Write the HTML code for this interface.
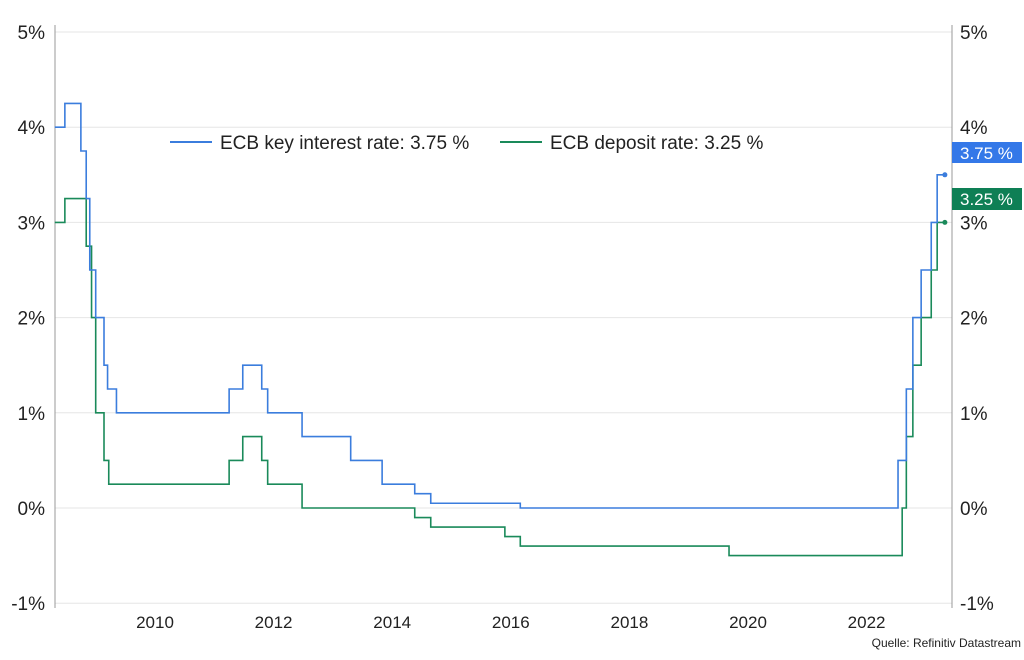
<!DOCTYPE html>
<html><head><meta charset="utf-8"><style>
body{margin:0;background:#fff;font-family:"Liberation Sans",sans-serif}
svg text{font-family:"Liberation Sans",sans-serif}
</style></head><body>
<svg id="c" width="1024" height="655">
<g id="grid"></g><g id="axes"></g><g id="series"></g>
<g>
<line x1="170" y1="142" x2="212" y2="142" stroke="#3b7ddd" stroke-width="2"/>
<text x="220" y="149" font-size="19" fill="#222">ECB key interest rate: 3.75 %</text>
<line x1="500" y1="142" x2="542" y2="142" stroke="#1a8a5a" stroke-width="2"/>
<text x="550" y="149" font-size="19" fill="#222">ECB deposit rate: 3.25 %</text>
</g>
<rect x="952" y="142" width="70" height="21" fill="#3478e8"/>
<text x="960" y="159" font-size="17" fill="#fff">3.75 %</text>
<rect x="952" y="188" width="70" height="22" fill="#0e7f55"/>
<text x="960" y="205" font-size="17" fill="#fff">3.25 %</text>
<text x="1021" y="647" font-size="12" fill="#222" text-anchor="end">Quelle: Refinitiv Datastream</text>
</svg>
<script>
const yTicks=[-1,0,1,2,3,4,5];
const xTicks=[2010,2012,2014,2016,2018,2020,2022];
const keyDates=[2008.31,2008.48,2008.75,2008.84,2008.9,2009.0,2009.14,2009.2,2009.35,2011.25,2011.48,2011.8,2011.9,2012.48,2013.3,2013.83,2014.38,2014.65,2016.16,2022.53,2022.67,2022.78,2022.92,2023.09,2023.19,2023.32];
const keyRates=[4.0,4.25,3.75,3.25,2.5,2.0,1.5,1.25,1.0,1.25,1.5,1.25,1.0,0.75,0.5,0.25,0.15,0.05,0.0,0.5,1.25,2.0,2.5,3.0,3.5,3.5];
const depDates=[2008.31,2008.48,2008.84,2008.93,2009.0,2009.14,2009.22,2011.25,2011.48,2011.8,2011.9,2012.48,2014.38,2014.65,2015.9,2016.16,2019.68,2022.6,2022.67,2022.78,2022.92,2023.09,2023.19,2023.32];
const depRates=[3.0,3.25,2.75,2.0,1.0,0.5,0.25,0.5,0.75,0.5,0.25,0.0,-0.1,-0.2,-0.3,-0.4,-0.5,0.0,0.75,1.5,2.0,2.5,3.0,3.0];
const NS='http://www.w3.org/2000/svg';
const X=t=>155+(t-2010)*59.3;
const Y=v=>508-v*95.2;
function mk(tag,attrs,parent){const e=document.createElementNS(NS,tag);for(const k in attrs)e.setAttribute(k,attrs[k]);parent.appendChild(e);return e;}
const grid=document.getElementById('grid'),axes=document.getElementById('axes'),ser=document.getElementById('series');
yTicks.forEach(v=>{
 const g=mk('line',{x1:55,x2:952,y1:Y(v),y2:Y(v),stroke:'#e6e6e6','stroke-width':1},grid);
 
 
 const l=mk('text',{x:45,y:Y(v)+7,'font-size':19,fill:'#222','text-anchor':'end'},axes);l.textContent=v+'%';
 
 
 const r=mk('text',{x:960,y:Y(v)+7,'font-size':19,fill:'#222'},axes);r.textContent=v+'%';
 
 
});
xTicks.forEach(t=>{
 const l=mk('text',{x:X(t),y:628,'font-size':17,fill:'#222','text-anchor':'middle'},axes);l.textContent=t;
 
 
});
const la=mk('line',{x1:55,x2:55,y1:25,y2:608,stroke:'#999'},axes);


const ra=mk('line',{x1:952,x2:952,y1:25,y2:608,stroke:'#999'},axes);


function step(d,v,color,name){
 let p='M'+X(d[0])+','+Y(v[0]);
 for(let i=1;i<d.length;i++){p+=' H'+X(d[i])+' V'+Y(v[i]);}
 const path=mk('path',{d:p,fill:'none',stroke:color,'stroke-width':1.6},ser);
 
 
 const n=d.length-1;
 const c=mk('circle',{cx:X(d[n]),cy:Y(v[n]),r:2.5,fill:color},ser);
 
 
}
step(depDates,depRates,'#1a8a5a','deposit-rate-line');
step(keyDates,keyRates,'#3b7ddd','key-rate-line');
</script>
</body></html>
